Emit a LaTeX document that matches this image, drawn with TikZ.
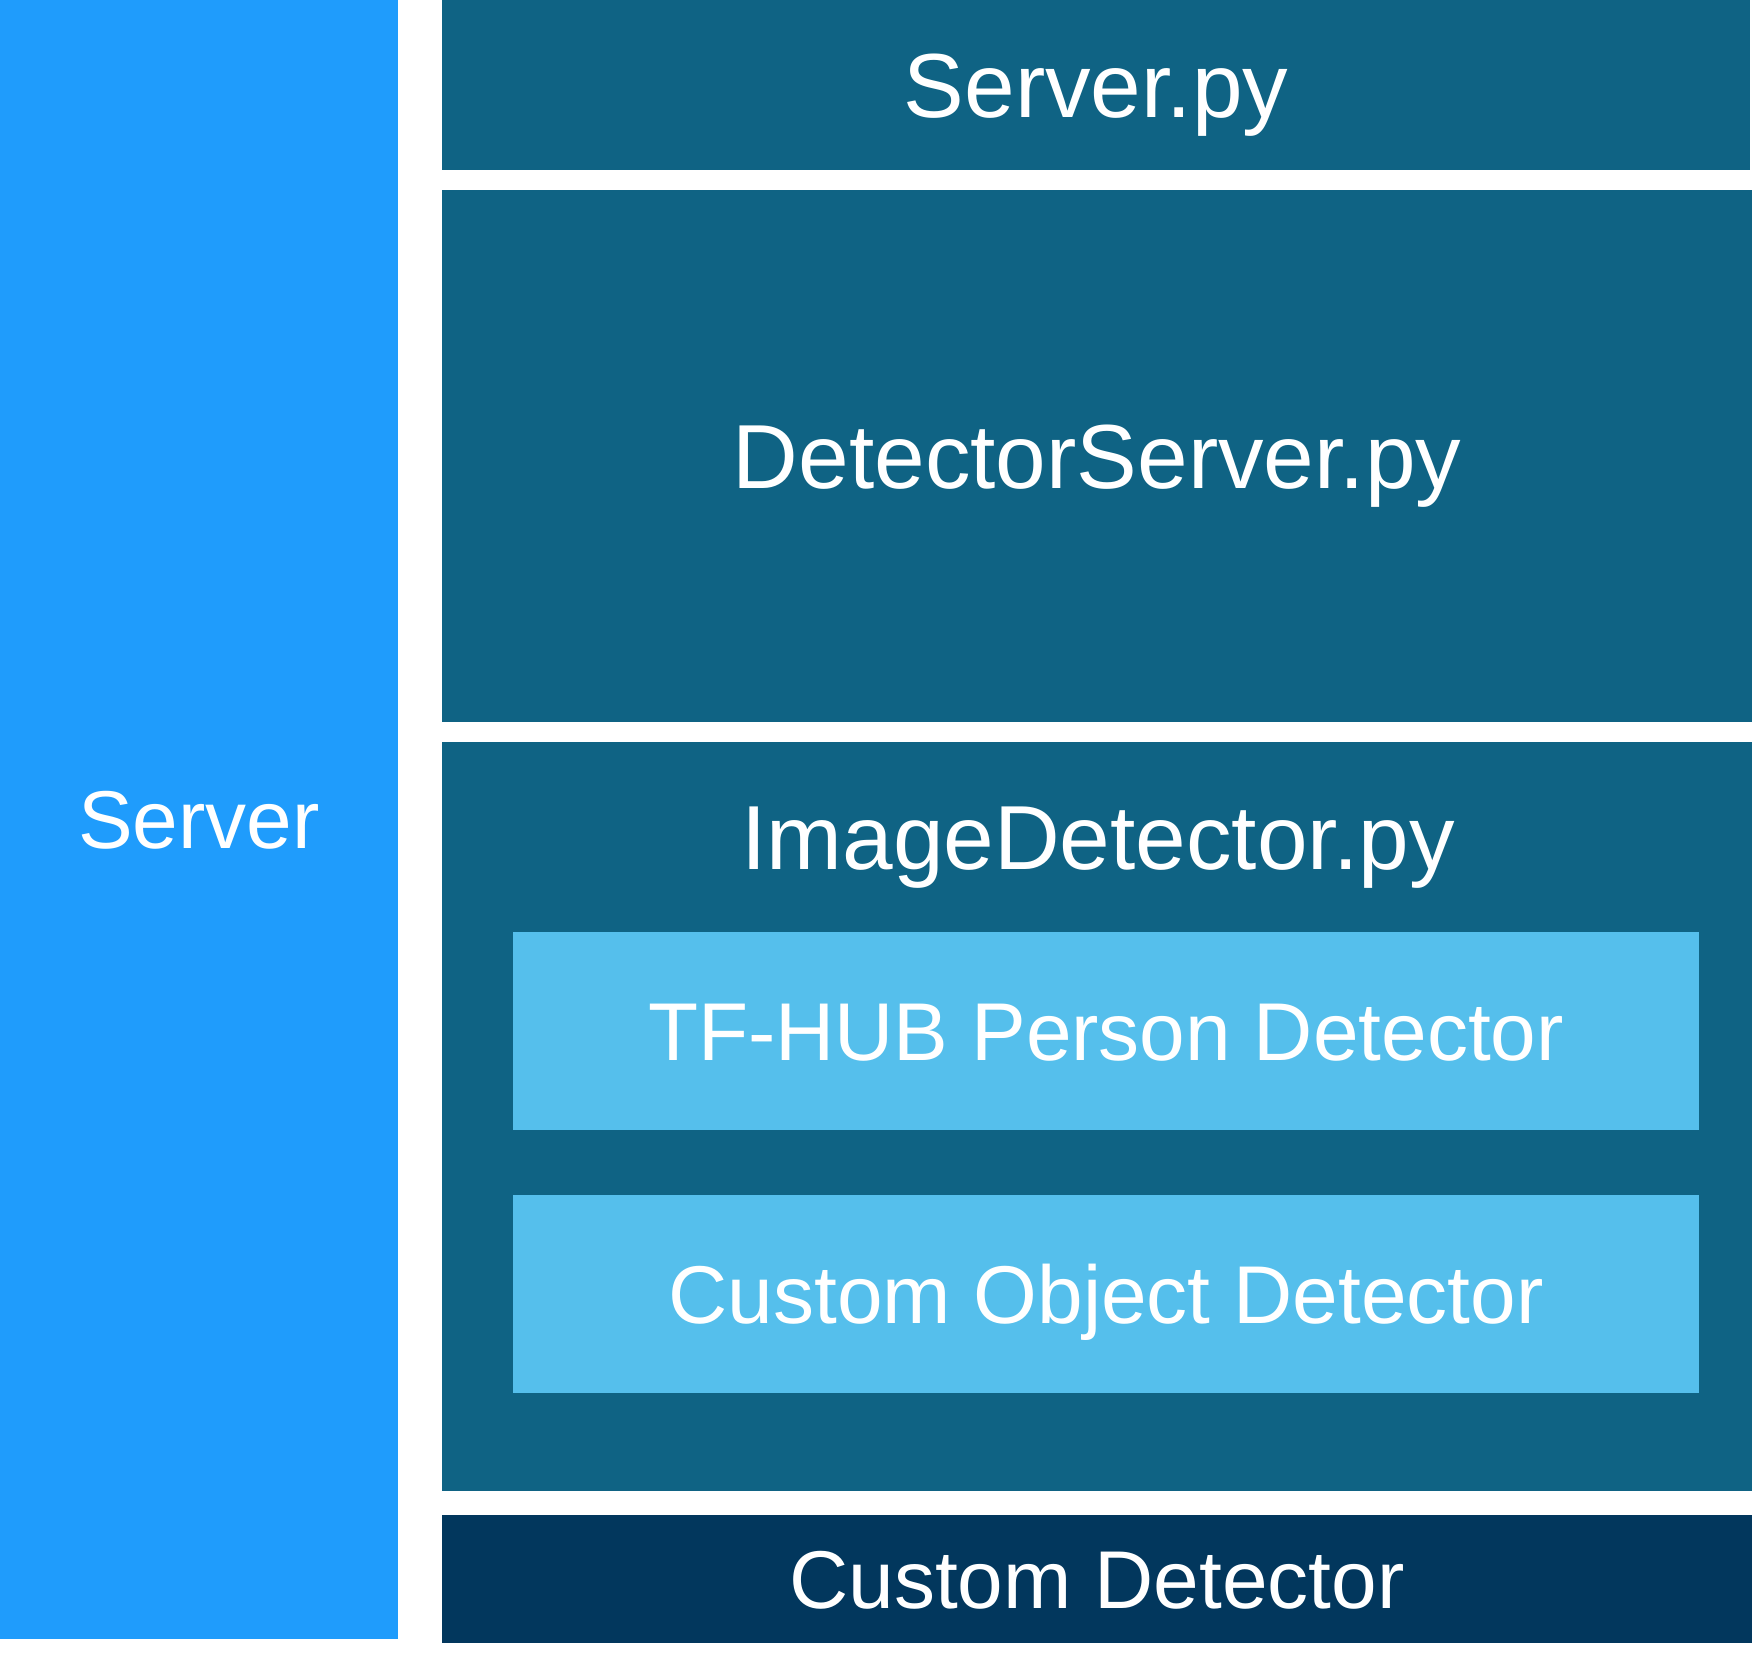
\documentclass[tikz,border=0pt]{standalone}
\usepackage{fontspec}
\setmainfont{Liberation Sans}
\usepackage{tikz}
\usepackage{xcolor}
\usetikzlibrary{positioning}
\definecolor{srvblue}{RGB}{31,156,252}
\definecolor{modteal}{RGB}{15,99,132}
\definecolor{detsky}{RGB}{85,191,236}
\definecolor{cusnavy}{RGB}{2,55,93}
\tikzset{blk/.style={inner sep=0pt, rectangle, text=white, text depth=0pt}}
\tikzset{bigtxt/.style={font=\fontsize{45.5}{54}\selectfont, text height=32.6pt}}
\tikzset{smltxt/.style={font=\fontsize{41}{49}\selectfont, text height=29.4pt}}

\begin{document}
\begin{tikzpicture}[x=0.5pt, y=-0.5pt]
                        \useasboundingbox (0, 0) rectangle (1752, 1679);
                        \node[blk, smltxt, fill=srvblue, minimum width=199pt, minimum height=819.5pt] (srv) at (199, 819.5) {Server};
                        \node[blk, bigtxt, fill=modteal, minimum width=654pt, minimum height=85pt] (srvpy) at (1096, 85) {Server.py};
                        \node[blk, bigtxt, fill=modteal, minimum width=655pt, minimum height=266pt] (dsrv) at (1097, 456) {DetectorServer.py};
                        \node[blk, fill=modteal, minimum width=655pt, minimum height=374.5pt] (imgd) at (1097, 1116.5) {};
                        \node[blk, bigtxt] (imgdl) at (1098, 837) {ImageDetector.py};
                        \node[blk, smltxt, fill=detsky, minimum width=593pt, minimum height=99pt] (tfhub) at (1106, 1031) {TF-HUB Person Detector};
                        \node[blk, smltxt, fill=detsky, minimum width=593pt, minimum height=99pt] (cod) at (1106, 1294) {Custom Object Detector};
                        \node[blk, smltxt, fill=cusnavy, minimum width=655pt, minimum height=64pt] (cdet) at (1097, 1579) {Custom Detector};
                    \end{tikzpicture}
\end{document}
